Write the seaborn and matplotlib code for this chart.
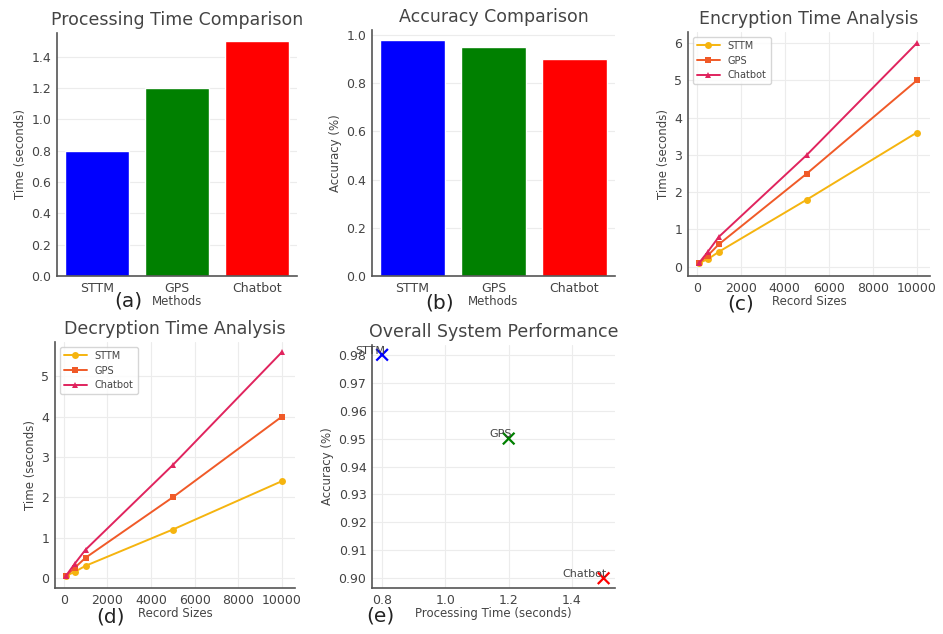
import numpy as np
import pandas as pd
import seaborn as sns
import matplotlib
matplotlib.use("Agg")
import matplotlib.pyplot as plt

# data
methods = ["STTM", "GPS", "Chatbot"]
proc_time = [0.8, 1.2, 1.5]
accuracy = [0.98, 0.95, 0.90]
bar_colors = ["blue", "green", "red"]

record_sizes = [100, 500, 1000, 5000, 10000]
enc_sttm = [0.1, 0.2, 0.4, 1.8, 3.6]
enc_gps = [0.1, 0.3, 0.6, 2.5, 5.0]
enc_chatbot = [0.1, 0.4, 0.8, 3.0, 6.0]
dec_sttm = [0.05, 0.15, 0.3, 1.2, 2.4]
dec_gps = [0.05, 0.25, 0.5, 2.0, 4.0]
dec_chatbot = [0.05, 0.35, 0.7, 2.8, 5.6]

line_colors = ["#f5b40f", "#f05a28", "#e0245e"]
line_markers = ["o", "s", "^"]

sns.set_style("whitegrid", {"grid.color": "#ececec", "axes.edgecolor": "#555555"})
plt.rcParams["font.family"] = ["DejaVu Sans"]
plt.rcParams["text.color"] = "#333333"
plt.rcParams["xtick.color"] = "#444444"
plt.rcParams["ytick.color"] = "#444444"

fig = plt.figure(figsize=(9.43, 6.34), dpi=100)
W, H = 943.0, 634.0

def ax_at(l, t, r, b):
    return fig.add_axes([l / W, 1 - b / H, (r - l) / W, (b - t) / H])

ax_a = ax_at(57, 33, 297, 276)
ax_b = ax_at(372, 30, 615, 276)
ax_c = ax_at(688, 32, 930, 276)
ax_d = ax_at(55, 342, 295, 588)
ax_e = ax_at(372, 345, 615, 588)

title_fs = 12.5
lab_fs = 8.5
tick_fs = 9

def style(ax, title, xlabel, ylabel):
    ax.set_title(title, fontsize=title_fs, color="#444444", pad=6)
    ax.set_xlabel(xlabel, fontsize=lab_fs, color="#444444", labelpad=0)
    ax.set_ylabel(ylabel, fontsize=lab_fs, color="#444444", labelpad=3)
    ax.tick_params(labelsize=tick_fs, length=2, pad=2)
    for s in ["top", "right"]:
        ax.spines[s].set_visible(False)
    ax.spines["left"].set_linewidth(1.2)
    ax.spines["bottom"].set_linewidth(1.2)

# (a) processing time bars
df_bar = pd.DataFrame({"Method": methods, "Time": proc_time, "Accuracy": accuracy})
sns.barplot(data=df_bar, x="Method", y="Time", hue="Method", palette=bar_colors,
            width=0.8, saturation=1, legend=False, ax=ax_a)
ax_a.set_ylim(0, 1.55)
style(ax_a, "Processing Time Comparison", "Methods", "Time (seconds)")

# (b) accuracy bars
sns.barplot(data=df_bar, x="Method", y="Accuracy", hue="Method", palette=bar_colors,
            width=0.8, saturation=1, legend=False, ax=ax_b)
ax_b.set_ylim(0, 1.02)
style(ax_b, "Accuracy Comparison", "Methods", "Accuracy (%)")

def line_panel(ax, series, title):
    df = pd.DataFrame({
        "Record Sizes": record_sizes * 3,
        "Time": series[0] + series[1] + series[2],
        "Method": [m for m in methods for _ in record_sizes],
    })
    for m, c, mk in zip(methods, line_colors, line_markers):
        sub = df[df["Method"] == m]
        sns.lineplot(data=sub, x="Record Sizes", y="Time", color=c, marker=mk,
                     markersize=5, markeredgewidth=0, linewidth=1.4, label=m, ax=ax)
    ax.set_xticks([0, 2000, 4000, 6000, 8000, 10000])
    ax.set_xlim(-400, 10600)
    leg = ax.legend(loc="upper left", fontsize=7, frameon=True, borderpad=0.4,
                    handlelength=2.4, labelspacing=0.5)
    for t in leg.get_texts():
        t.set_color("#444444")
    style(ax, title, "Record Sizes", "Time (seconds)")

line_panel(ax_c, [enc_sttm, enc_gps, enc_chatbot], "Encryption Time Analysis")
ax_c.set_ylim(-0.25, 6.3)
line_panel(ax_d, [dec_sttm, dec_gps, dec_chatbot], "Decryption Time Analysis")
ax_d.set_ylim(-0.25, 5.85)

# (e) scatter
sns.scatterplot(data=df_bar, x="Time", y="Accuracy", hue="Method", palette=bar_colors,
                marker="x", s=70, linewidth=1.6, legend=False, ax=ax_e)
for m, x, y in zip(methods, proc_time, accuracy):
    ax_e.text(x + 0.01, y - 0.0003, m, ha="right", va="bottom", fontsize=8, color="#444444")
ax_e.set_xlim(0.768, 1.536)
ax_e.set_ylim(0.8965, 0.9835)
ax_e.set_xticks([0.8, 1.0, 1.2, 1.4])
ax_e.set_yticks(np.round(np.arange(0.90, 0.985, 0.01), 2))
ax_e.yaxis.set_major_formatter(matplotlib.ticker.FormatStrFormatter("%.2f"))
style(ax_e, "Overall System Performance", "Processing Time (seconds)", "Accuracy (%)")

# panel letters
for lbl, x, y in [("(a)", 128, 301), ("(b)", 440, 303), ("(c)", 741, 304),
                  ("(d)", 110, 617), ("(e)", 380, 616)]:
    fig.text(x / W, 1 - y / H, lbl, fontsize=14.5, color="#222222", ha="center", va="center")

fig.savefig("out.png", dpi=100)
